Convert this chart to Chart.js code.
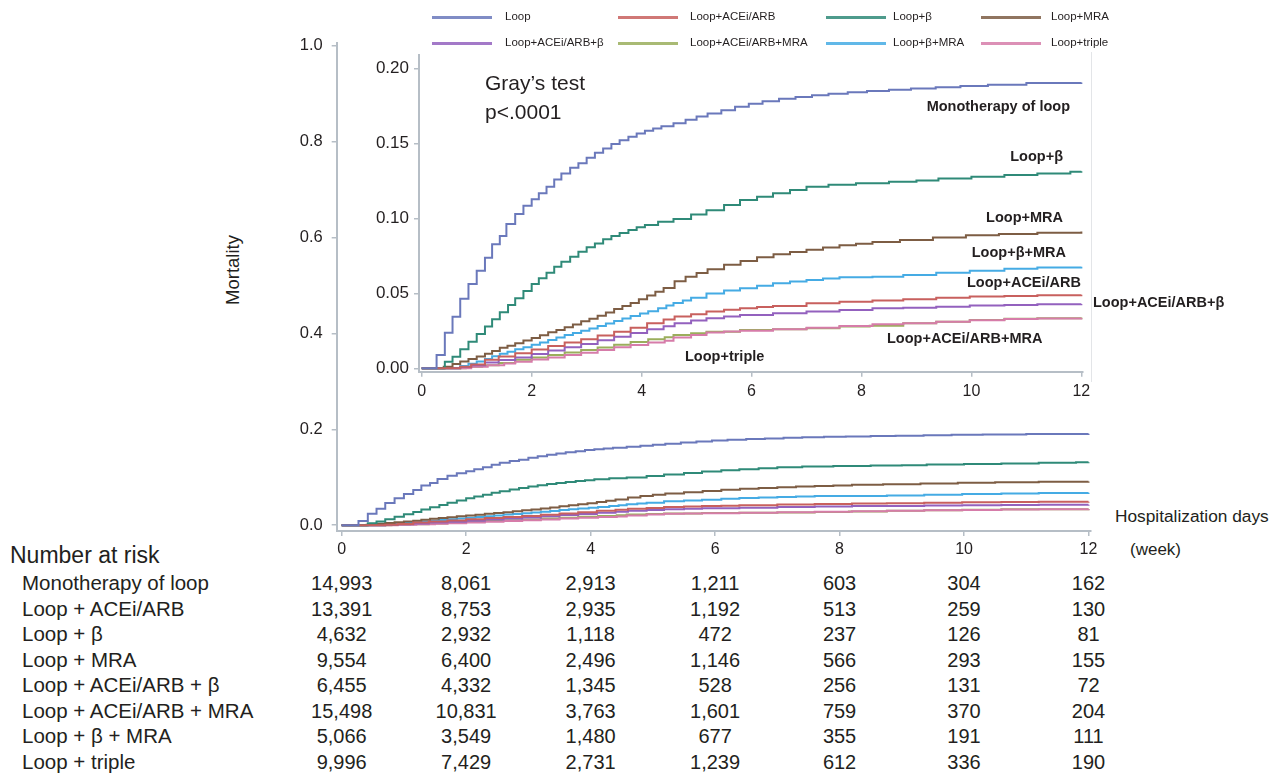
<!DOCTYPE html>
<html>
<head>
<meta charset="utf-8">
<script src="https://cdn.jsdelivr.net/npm/chart.js@4.4.1/dist/chart.umd.min.js"></script>
<style>
  html, body { margin: 0; padding: 0; background: #fff; }
  body { width: 1280px; height: 774px; position: relative; overflow: hidden;
         font-family: 'Liberation Sans', Arial, sans-serif; color: #231f20; }
  canvas { position: absolute; }
  .t { position: absolute; white-space: nowrap; line-height: 1; }
  .lbl { position: absolute; white-space: nowrap; line-height: 1; font-weight: bold; font-size: 14.5px; }
  .leg-line { position: absolute; height: 3px; width: 60px; }
  .leg-text { position: absolute; white-space: nowrap; font-size: 11.5px; line-height: 1; transform: translateY(-50%); }
</style>
</head>
<body>
<canvas id="mainChart" width="861" height="547" style="left:250px; top:23px;"></canvas>
<canvas id="insetChart" width="743" height="365" style="left:360px; top:35px;"></canvas>
<div style="position:absolute; left:1091px; top:52px; height:330px; border-left:1px solid #e3e5e8;"></div>
<div id="overlay"></div>

<script>
// Series (same order as the legend)
const seriesNames = ['Loop', 'Loop+ACEi/ARB', 'Loop+β', 'Loop+MRA',
                     'Loop+ACEi/ARB+β', 'Loop+ACEi/ARB+MRA', 'Loop+β+MRA', 'Loop+triple'];
const seriesColors = ['#6a78bb', '#c8605e', '#2f8a78', '#7d5d44',
                      '#9361be', '#9aae5c', '#45abe4', '#d67ca9'];

// Cumulative mortality (x = weeks, y = mortality)
const loopWeeks = [0, 0.27, 0.42, 0.56, 0.70, 0.85, 1.0, 1.15, 1.28, 1.42, 1.54, 1.70, 1.85, 2.0, 2.13, 2.27, 2.41, 2.54, 2.7, 2.85, 3.0, 3.15, 3.3, 3.45, 3.6, 3.76, 3.91, 4.06, 4.21, 4.36, 4.58, 4.8, 5.0, 5.2, 5.45, 5.7, 5.95, 6.2, 6.5, 6.8, 7.1, 7.4, 7.75, 8.1, 8.5, 8.9, 9.35, 9.8, 10.3, 11.0, 12.0];
const loopRisk  = [0, 0.0089, 0.0237, 0.0344, 0.0464, 0.0562, 0.0651, 0.0737, 0.0827, 0.0882, 0.0962, 0.1029, 0.1084, 0.1127, 0.1167, 0.1211, 0.126, 0.130, 0.1338, 0.1367, 0.1404, 0.1438, 0.1467, 0.1496, 0.1522, 0.1544, 0.1567, 0.1584, 0.160, 0.1615, 0.1635, 0.1658, 0.168, 0.170, 0.1722, 0.1745, 0.1765, 0.1782, 0.1798, 0.181, 0.1822, 0.1832, 0.1842, 0.185, 0.1858, 0.1866, 0.1874, 0.1884, 0.1892, 0.1904, 0.1906];

const betaWeeks = [0, 0.42, 0.56, 0.70, 0.85, 1.0, 1.15, 1.28, 1.42, 1.57, 1.70, 1.85, 2.0, 2.13, 2.27, 2.41, 2.54, 2.7, 2.85, 3.0, 3.15, 3.3, 3.45, 3.6, 3.76, 3.91, 4.06, 4.3, 4.58, 4.9, 5.18, 5.5, 5.79, 6.1, 6.39, 6.7, 7.0, 7.4, 7.9, 8.5, 9.0, 9.4, 10.0, 10.6, 11.2, 11.8, 12.0];
const betaRisk  = [0, 0.0044, 0.0076, 0.0127, 0.0177, 0.0229, 0.0278, 0.0327, 0.0373, 0.0422, 0.0467, 0.0516, 0.0562, 0.060, 0.0638, 0.0678, 0.0711, 0.0744, 0.0778, 0.0807, 0.0833, 0.086, 0.0882, 0.0902, 0.0922, 0.094, 0.0956, 0.0978, 0.0995, 0.1025, 0.1055, 0.109, 0.1122, 0.1145, 0.1167, 0.119, 0.1211, 0.1225, 0.1235, 0.1245, 0.1252, 0.1266, 0.1277, 0.1289, 0.130, 0.1311, 0.1315];

const mraWeeks = [0, 0.4, 0.56, 0.7, 0.85, 1.0, 1.15, 1.28, 1.42, 1.56, 1.7, 1.85, 2.0, 2.15, 2.3, 2.45, 2.6, 2.75, 2.9, 3.05, 3.2, 3.35, 3.5, 3.65, 3.8, 3.95, 4.1, 4.25, 4.4, 4.6, 4.8, 5.0, 5.2, 5.5, 5.8, 6.1, 6.4, 6.7, 7.0, 7.3, 7.6, 7.9, 8.2, 8.7, 9.3, 9.9, 10.5, 11.2, 12.0];
const mraRisk  = [0, 0.001, 0.0029, 0.0045, 0.0062, 0.0078, 0.0096, 0.0115, 0.0136, 0.015, 0.0167, 0.0185, 0.0202, 0.022, 0.024, 0.0256, 0.0273, 0.0292, 0.0313, 0.033, 0.035, 0.0372, 0.0396, 0.0415, 0.0435, 0.046, 0.0485, 0.051, 0.0535, 0.058, 0.061, 0.0635, 0.066, 0.069, 0.0715, 0.074, 0.076, 0.0775, 0.079, 0.0805, 0.082, 0.083, 0.0842, 0.0855, 0.0872, 0.0888, 0.0896, 0.0904, 0.0912];

const betaMraWeeks = [0, 0.7, 0.85, 1.0, 1.15, 1.28, 1.42, 1.56, 1.7, 1.85, 2.0, 2.15, 2.3, 2.45, 2.6, 2.75, 2.9, 3.05, 3.2, 3.35, 3.5, 3.65, 3.8, 3.97, 4.12, 4.3, 4.45, 4.58, 4.75, 4.9, 5.18, 5.5, 5.79, 6.1, 6.39, 6.7, 7.0, 7.3, 7.6, 8.2, 8.76, 9.36, 9.97, 10.6, 11.2, 12.0];
const betaMraRisk  = [0, 0.0015, 0.003, 0.0045, 0.0062, 0.008, 0.0096, 0.011, 0.0127, 0.014, 0.0156, 0.0172, 0.0189, 0.0205, 0.0222, 0.0236, 0.0251, 0.0266, 0.0282, 0.0299, 0.0316, 0.0332, 0.0349, 0.0365, 0.038, 0.040, 0.0418, 0.0435, 0.0452, 0.047, 0.0498, 0.0518, 0.0533, 0.055, 0.0567, 0.0578, 0.0589, 0.0598, 0.0607, 0.061, 0.0622, 0.0638, 0.0651, 0.0664, 0.0673, 0.0678];

const aceWeeks = [0, 0.7, 0.9, 1.15, 1.4, 1.7, 2.0, 2.3, 2.6, 2.9, 3.2, 3.5, 3.8, 4.1, 4.4, 4.6, 4.9, 5.18, 5.5, 5.79, 6.1, 6.39, 7.0, 7.6, 8.2, 8.76, 9.36, 9.97, 10.6, 11.2, 12.0];
const aceRisk  = [0, 0.001, 0.0025, 0.0056, 0.0078, 0.010, 0.0125, 0.0149, 0.0171, 0.0193, 0.0218, 0.0244, 0.027, 0.030, 0.0325, 0.0345, 0.036, 0.0378, 0.039, 0.040, 0.0408, 0.0416, 0.0433, 0.0444, 0.0452, 0.046, 0.0471, 0.0478, 0.0482, 0.0487, 0.049];

const aceBetaWeeks = [0, 0.7, 0.9, 1.15, 1.4, 1.7, 2.0, 2.3, 2.6, 2.9, 3.2, 3.5, 3.8, 4.1, 4.4, 4.6, 4.9, 5.18, 5.5, 5.79, 6.39, 7.0, 7.6, 8.2, 8.76, 9.36, 9.97, 10.6, 11.2, 12.0];
const aceBetaRisk  = [0, 0.0008, 0.002, 0.0038, 0.0055, 0.0071, 0.0095, 0.0118, 0.014, 0.0162, 0.0186, 0.0211, 0.0235, 0.026, 0.028, 0.030, 0.0318, 0.0333, 0.0345, 0.0356, 0.0367, 0.0378, 0.0389, 0.040, 0.0403, 0.0411, 0.0418, 0.0422, 0.0427, 0.0429];

const aceMraWeeks = [0, 0.8, 1.1, 1.4, 1.7, 2.0, 2.3, 2.6, 2.9, 3.2, 3.5, 3.8, 4.12, 4.42, 4.58, 4.9, 5.18, 5.79, 6.39, 7.0, 7.6, 8.15, 8.76, 9.36, 9.97, 10.6, 11.2, 12.0];
const aceMraRisk  = [0, 0.001, 0.002, 0.0035, 0.0056, 0.0072, 0.0089, 0.0105, 0.0122, 0.0139, 0.0156, 0.0175, 0.0193, 0.0207, 0.0222, 0.0233, 0.0244, 0.0256, 0.026, 0.0267, 0.0278, 0.0284, 0.030, 0.0311, 0.0322, 0.0331, 0.0333, 0.0338];

const tripleWeeks = [0, 0.9, 1.2, 1.5, 1.7, 2.0, 2.3, 2.6, 2.9, 3.2, 3.5, 3.8, 4.12, 4.42, 4.58, 4.9, 5.18, 5.5, 5.79, 6.39, 7.0, 7.6, 8.2, 8.76, 9.36, 9.97, 10.6, 11.2, 12.0];
const tripleRisk  = [0, 0.001, 0.002, 0.0032, 0.0044, 0.0058, 0.0071, 0.0088, 0.0104, 0.0122, 0.014, 0.0155, 0.0171, 0.0184, 0.0205, 0.0222, 0.0238, 0.0245, 0.0251, 0.026, 0.0271, 0.0282, 0.0293, 0.030, 0.031, 0.032, 0.0328, 0.0332, 0.0336];

// Tick labels
const weekTicks = [0, 2, 4, 6, 8, 10, 12];
const mainYTicks = [0, 0.2, 0.4, 0.6, 0.8, 1.0];
const insetYTicks = [0, 0.05, 0.10, 0.15, 0.20];

// Number at risk (at weeks 0, 2, ..., 12)
const riskRowLabels = ['Monotherapy of loop', 'Loop + ACEi/ARB', 'Loop + β', 'Loop + MRA',
                       'Loop + ACEi/ARB + β', 'Loop + ACEi/ARB + MRA', 'Loop + β + MRA', 'Loop + triple'];
const atRiskLoop     = [14993, 8061, 2913, 1211, 603, 304, 162];
const atRiskAce      = [13391, 8753, 2935, 1192, 513, 259, 130];
const atRiskBeta     = [4632, 2932, 1118, 472, 237, 126, 81];
const atRiskMra      = [9554, 6400, 2496, 1146, 566, 293, 155];
const atRiskAceBeta  = [6455, 4332, 1345, 528, 256, 131, 72];
const atRiskAceMra   = [15498, 10831, 3763, 1601, 759, 370, 204];
const atRiskBetaMra  = [5066, 3549, 1480, 677, 355, 191, 111];
const atRiskTriple   = [9996, 7429, 2731, 1239, 612, 336, 190];

const FONT = "'Liberation Sans', Arial, sans-serif";
const TEXT = '#231f20';
const AXIS = '#b6bec6';

const curveWeeks = [loopWeeks, aceWeeks, betaWeeks, mraWeeks, aceBetaWeeks, aceMraWeeks, betaMraWeeks, tripleWeeks];
const curveRisk  = [loopRisk, aceRisk, betaRisk, mraRisk, aceBetaRisk, aceMraRisk, betaMraRisk, tripleRisk];

function buildDatasets() {
    return seriesNames.map((name, i) => ({
        label: name,
        data: curveWeeks[i].map((w, j) => ({ x: w, y: curveRisk[i][j] })),
        borderColor: seriesColors[i],
        borderWidth: 2,
        pointRadius: 0,
        stepped: true,
        fill: false,
        order: name === 'Loop+ACEi/ARB+MRA' ? 1 : 0
    }));
}

function axisOpts(ticks, fmt, fontSize, pad, fitFn) {
    return {
        type: 'linear',
        afterBuildTicks: s => { s.ticks = ticks.map(v => ({ value: v })); },
        afterFit: fitFn,
        ticks: { color: TEXT, font: { family: FONT, size: fontSize }, padding: pad, callback: fmt, maxRotation: 0 },
        grid: { display: true, drawOnChartArea: false, drawTicks: true, tickLength: 5, color: AXIS, lineWidth: 1.5 },
        border: { display: true, color: AXIS, width: 2 }
    };
}

const baseOpts = {
    responsive: false,
    animation: false,
    devicePixelRatio: 1,
    plugins: { legend: { display: false }, tooltip: { enabled: false } }
};

// Outer chart: full 0-1 scale
const mainChart = new Chart(document.getElementById('mainChart'), {
    type: 'line',
    data: { datasets: buildDatasets() },
    options: {
        ...baseOpts,
        layout: { padding: { top: 20, right: 20, left: 0, bottom: 0 } },
        scales: {
            x: { ...axisOpts(weekTicks, v => v, 16, 4, s => { s.height = 39; }), min: -0.08, max: 12.04 },
            y: { ...axisOpts(mainYTicks, v => v.toFixed(1), 16.5, 9, s => { s.width = 86.7; }), min: -0.012, max: 1.005 }
        }
    }
});

// Inset: zoomed 0-0.20
const insetChart = new Chart(document.getElementById('insetChart'), {
    type: 'line',
    data: { datasets: buildDatasets() },
    options: {
        ...baseOpts,
        layout: { padding: { top: 20, right: 20, left: 0, bottom: 0 } },
        scales: {
            x: { ...axisOpts(weekTicks, v => v, 16, 5, s => { s.height = 28.3; }), min: -0.05, max: 12.03 },
            y: { ...axisOpts(insetYTicks, v => v.toFixed(2), 17, 5, s => { s.width = 59; }), min: -0.0023, max: 0.209 }
        }
    }
});

// Text overlay
const overlay = document.getElementById('overlay');
function addText(txt, left, top, css) {
    const d = document.createElement('div');
    d.className = 't';
    d.textContent = txt;
    d.style.left = left + 'px';
    d.style.top = top + 'px';
    Object.assign(d.style, css || {});
    overlay.appendChild(d);
    return d;
}
function addLabel(txt, x, y, alignRight) {
    const d = document.createElement('div');
    d.className = 'lbl';
    d.textContent = txt;
    d.style.left = x + 'px';
    d.style.top = y + 'px';
    d.style.transform = alignRight ? 'translate(-100%, -50%)' : 'translate(0, -50%)';
    overlay.appendChild(d);
}

// Legend
const legendLineX = [432, 618, 826, 981];
const legendTextX = [505, 690, 893, 1051];
const legendRowY = [17, 43];
seriesNames.forEach((name, i) => {
    const col = i % 4, row = Math.floor(i / 4);
    const ln = document.createElement('div');
    ln.className = 'leg-line';
    ln.style.left = legendLineX[col] + 'px';
    ln.style.top = (legendRowY[row] - 1.5) + 'px';
    ln.style.background = seriesColors[i];
    ln.style.opacity = 0.85;
    overlay.appendChild(ln);
    const tx = document.createElement('div');
    tx.className = 'leg-text';
    tx.textContent = name;
    tx.style.left = legendTextX[col] + 'px';
    tx.style.top = legendRowY[row] + 'px';
    overlay.appendChild(tx);
});

// Axis titles and annotations
addText('Mortality', 233, 270, { fontSize: '18.5px', transform: 'translate(-50%, -50%) rotate(-90deg)' });
addText('Gray’s test', 485, 82, { fontSize: '21px', transform: 'translateY(-50%)' });
addText('p<.0001', 485, 111, { fontSize: '21px', transform: 'translateY(-50%)' });
addText('Hospitalization days', 1115, 517, { fontSize: '17.3px', transform: 'translateY(-50%)' });
addText('(week)', 1130, 549, { fontSize: '17px', transform: 'translateY(-50%)' });

// Curve labels inside the inset
addLabel('Monotherapy of loop', 1070, 106, true);
addLabel('Loop+β', 1063, 156, true);
addLabel('Loop+MRA', 1063, 217, true);
addLabel('Loop+β+MRA', 1066, 252, true);
addLabel('Loop+ACEi/ARB', 1081, 282, true);
addLabel('Loop+ACEi/ARB+β', 1093, 302, false);
addLabel('Loop+ACEi/ARB+MRA', 887, 338, false);
addLabel('Loop+triple', 685, 356, false);

// Number at risk table, columns aligned to the outer x axis
const atRiskRows = [atRiskLoop, atRiskAce, atRiskBeta, atRiskMra, atRiskAceBeta, atRiskAceMra, atRiskBetaMra, atRiskTriple];
const xs = mainChart.scales.x;
const canvasLeft = 250;
addText('Number at risk', 10, 555, { fontSize: '23px', transform: 'translateY(-50%)' });
const rowY0 = 583, rowStep = 25.55;
riskRowLabels.forEach((lab, r) => {
    const y = rowY0 + r * rowStep;
    addText(lab, 22, y, { fontSize: '20.5px', transform: 'translateY(-50%)' });
    atRiskRows[r].forEach((n, c) => {
        const px = canvasLeft + xs.getPixelForValue(weekTicks[c]);
        addText(n.toLocaleString('en-US'), px, y, { fontSize: '20px', transform: 'translate(-50%, -50%)' });
    });
});
</script>
</body>
</html>
